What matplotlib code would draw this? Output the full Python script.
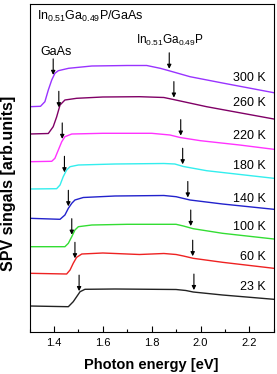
import numpy as np
import matplotlib.pyplot as plt

plt.rcParams['font.family'] = 'Liberation Sans'
plt.rcParams['mathtext.fontset'] = 'custom'
plt.rcParams['mathtext.rm'] = 'Liberation Sans'
plt.rcParams['mathtext.it'] = 'Liberation Sans:italic'
plt.rcParams['mathtext.bf'] = 'Liberation Sans:bold'

# Data (signal in arbitrary units, curves offset)
temps = ['300 K', '260 K', '220 K', '180 K', '140 K', '100 K', '60 K', '23 K']
colors = ['#9933ff', '#800066', '#ff33ff', '#33eeee', '#2222cc', '#33dd33', '#ee2222', '#222222']

e_300 = [1.30, 1.345, 1.363, 1.377, 1.391, 1.404, 1.418, 1.46, 1.555, 1.70, 1.78, 1.835, 1.875, 1.957, 2.09, 2.30]
s_300 = [225.3, 225.7, 230.3, 242, 252, 258.7, 261.3, 263.7, 266, 266.5, 266.5, 263.7, 261, 255.3, 249, 239.3]

e_260 = [1.30, 1.377, 1.397, 1.411, 1.425, 1.445, 1.493, 1.60, 1.75, 1.85, 1.889, 2.025, 2.30]
s_260 = [198, 198.5, 205.3, 215, 227, 232, 233.7, 235, 235.3, 234.5, 232.5, 225.3, 213]

e_220 = [1.30, 1.391, 1.404, 1.418, 1.432, 1.445, 1.473, 1.60, 1.80, 1.875, 1.916, 2.0, 2.16, 2.30]
s_220 = [170.3, 170.7, 173.7, 182, 190.3, 195.3, 198, 198.7, 198.7, 197, 194.5, 191.3, 187, 182.7]

e_180 = [1.30, 1.411, 1.425, 1.438, 1.452, 1.466, 1.50, 1.65, 1.85, 1.895, 1.93, 2.025, 2.30]
s_180 = [143, 143.3, 147, 155.3, 162, 165.3, 167, 168, 168.5, 168, 165.5, 161.3, 153.7]

e_140 = [1.30, 1.425, 1.445, 1.459, 1.473, 1.486, 1.52, 1.65, 1.85, 1.90, 1.957, 2.09, 2.30]
s_140 = [113.7, 112.7, 117, 123.7, 128.7, 132, 134.5, 136, 136.5, 135.3, 132, 128, 122.7]

e_100 = [1.30, 1.445, 1.459, 1.473, 1.486, 1.50, 1.555, 1.70, 1.90, 1.93, 1.97, 2.09, 2.30]
s_100 = [85.3, 85.3, 88.7, 95.3, 102, 105.3, 107, 107.7, 107.7, 106, 103.3, 98.7, 93]

e_60 = [1.30, 1.452, 1.466, 1.479, 1.493, 1.514, 1.60, 1.75, 1.85, 1.90, 1.93, 1.97, 2.09, 2.30]
s_60 = [58.7, 58, 62, 68.7, 74.7, 78, 79, 77.5, 78.5, 77.5, 76, 73.7, 69.7, 63.7]

e_23 = [1.30, 1.459, 1.479, 1.493, 1.507, 1.527, 1.65, 1.90, 1.94, 1.97, 2.09, 2.30]
s_23 = [26, 25.3, 30.3, 35.3, 40.3, 42.7, 43, 42.5, 41.5, 40, 37, 32.7]

energies = [e_300, e_260, e_220, e_180, e_140, e_100, e_60, e_23]
signals = [s_300, s_260, s_220, s_180, s_140, s_100, s_60, s_23]

# band gap arrows (eV)
gaas_gap = [1.397, 1.42, 1.434, 1.443, 1.459, 1.473, 1.486, 1.503]
ingap_gap = [1.872, 1.891, 1.919, 1.927, 1.948, 1.96, 1.968, 1.973]

label_y = [254, 229, 196, 166, 133, 105, 75, 45]

fig = plt.figure(figsize=(2.77, 3.74), dpi=100)
ax = fig.add_axes([29.5 / 277, 42 / 374, 244.3 / 277, 328 / 374])

for e, s, c, t, g1, g2, ly in zip(energies, signals, colors, temps, gaas_gap, ingap_gap, label_y):
    ax.plot(e, s, color=c, lw=1.0, solid_joinstyle='round')
    for g in (g1, g2):
        tip = np.interp(g, e, s) + 2
        ax.annotate('', xy=(g, tip), xytext=(g, tip + 16),
                    arrowprops=dict(arrowstyle='-|>', color='k', lw=0.8,
                                    mutation_scale=6, shrinkA=0, shrinkB=0))
    ax.text(2.268, ly, t, ha='right', va='center', fontsize=9)

ax.text(1.331, 316, r'In$_{0.51}$Ga$_{0.49}$P/GaAs', ha='left', va='center', fontsize=9)
ax.text(1.875, 292, r'In$_{0.51}$Ga$_{0.49}$P', ha='center', va='center', fontsize=8.5)
ax.text(1.41, 280, 'GaAs', ha='center', va='center', fontsize=9)

ax.set_xlim(1.3, 2.3)
ax.set_ylim(0, 328)
ax.set_xticks([1.4, 1.6, 1.8, 2.0, 2.2])
ax.set_xticks(np.arange(1.3, 2.31, 0.1), minor=True)
ax.set_yticks([])
ax.tick_params(axis='x', which='both', direction='in', labelsize=8, pad=4)
ax.tick_params(axis='x', which='major', length=4, width=0.8)
ax.tick_params(axis='x', which='minor', length=2.5, width=0.8)
for sp in ax.spines.values():
    sp.set_linewidth(0.8)

fig.text(151 / 277, 1 - 365 / 374, 'Photon energy [eV]', ha='center', va='center',
         fontsize=10.5, fontweight='bold')
fig.text(9 / 277, 1 - 183 / 374, 'SPV singals [arb.units]', ha='center', va='center',
         rotation=90, fontsize=11.5, fontweight='bold')

fig.savefig('out.png', dpi=100)
